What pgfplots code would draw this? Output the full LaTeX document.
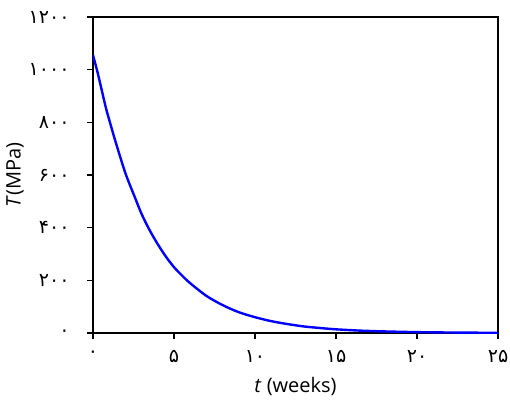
\documentclass[border=0pt]{standalone}
\usepackage{pgfplots}
\pgfplotsset{compat=1.18}
\usepackage{fontspec}
\setmainfont{Open Sans}
\newfontfamily\fadigits[Script=Arabic]{DejaVu Sans}
\begin{document}
\begin{tikzpicture}
\begin{axis}[
  scale only axis,
  width=405pt, height=316pt,
  xmin=0, xmax=25, ymin=0, ymax=1200,
  xtick={0,5,10,15,20,25},
  xticklabels={۰,۵,۱۰,۱۵,۲۰,۲۵},
  ytick={0,200,400,600,800,1000,1200},
  yticklabels={۰,۲۰۰,۴۰۰,۶۰۰,۸۰۰,۱۰۰۰,۱۲۰۰},
  xtick pos=bottom, ytick pos=left,
  tick align=outside,
  major tick length=6pt,
  axis line style={line width=1.4pt},
  every tick/.style={black, line width=1.4pt},
  tick label style={font=\fadigits\fontsize{19}{22}\selectfont},
  xticklabel style={yshift=-8pt},
  yticklabel style={xshift=-14pt},
  xlabel={\textit{t} (weeks)},
  ylabel={\textit{T}(MPa)},
  label style={font=\fontsize{20}{24}\selectfont},
  xlabel style={yshift=-8pt},
  ylabel style={yshift=-2pt},
]
\addplot[blue, line width=2.4pt, smooth] coordinates {
(0,1055) (0.3,985) (0.78,859) (1,810) (1.36,733) (2,607) (2.6,513) (3,452)
(3.5,390) (4,337) (4.5,290) (5,250) (5.5,218) (6,189) (7,141) (8,106) (9,79)
(10,60) (11,45) (12,34) (13,25) (14,19) (15,14) (16.5,9) (18,6)
(20,3.3) (22.5,1.6) (25,0.8)
};
\coordinate (sw) at (rel axis cs:0,0);
\coordinate (ne) at (rel axis cs:1,1);
\end{axis}
\pgfresetboundingbox
\path (sw) ++(-93pt,-68pt) coordinate (a);
\path (ne) ++(12pt,17pt) coordinate (b);
\path[use as bounding box] (a) rectangle (b);
\end{tikzpicture}
\end{document}
